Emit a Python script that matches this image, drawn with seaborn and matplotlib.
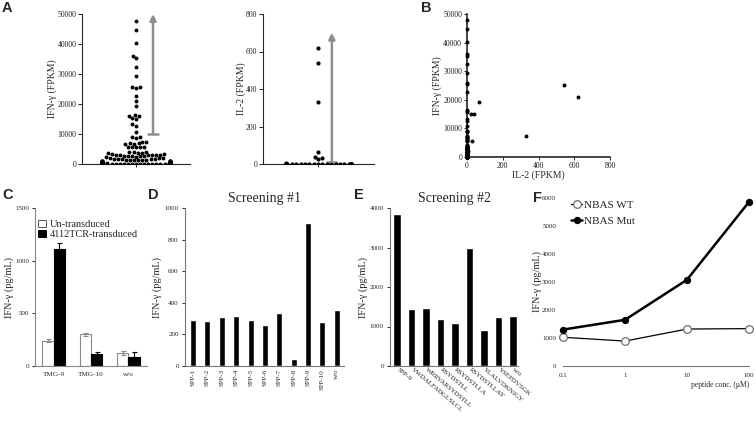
import warnings
warnings.filterwarnings('ignore')
import numpy as np
import pandas as pd
import matplotlib
matplotlib.use('Agg')
import matplotlib.pyplot as plt
from matplotlib.ticker import NullLocator
import seaborn as sns

# ---------------- data ----------------
# Panel A / B: single-cell FPKM values (IFN-gamma and IL-2, paired per cell)
ifng_fpkm = [
    47800, 44700, 40200, 36100, 35200, 32400, 29400, 25800, 25600, 25200, 22700, 21000, 19300,
    16300, 16100, 15900, 15200, 15000, 13200, 12700, 10800, 9100, 9000, 8600, 7500, 7400,
    6900, 6900, 6800, 6800, 5800, 5800, 5700, 5700, 5600,
    4100, 4000, 3900, 3800, 3700, 3600,
    3300, 3200, 3100, 3100, 3000, 3000, 2900, 2900, 2800, 2800, 2700, 2700, 2600, 2500,
    2200, 2000, 1900, 1900, 1800, 1800, 1700, 1700, 1600, 1500, 1500, 1400,
    1300, 1200, 1200, 1100, 1100, 1000, 1000, 950, 900, 900, 850, 800, 800, 750, 700, 700,
    650, 600, 600, 550,
    500, 500, 450, 450, 400, 400, 350, 350, 300, 300, 300, 250, 250, 200, 200, 200, 150,
    150, 150, 100, 100, 100, 80, 60, 50, 40, 30, 20, 10, 5,
]
il2_fpkm = [
    0, 0, 0, 1, 0, 0, 0, 0, 2, 540, 0, 620, 65,
    0, 1, 0, 38, 25, 0, 0, 1, 0, 0, 0, 330, 0,
    0, 1, 0, 0, 0, 0, 30, 0, 0,
    0, 0, 1, 0, 0, 0,
    0, 0, 0, 1, 0, 0, 0, 0, 2, 0, 0, 0, 0, 0,
    8, 0, 0, 0, 0, 1, 0, 0, 0, 0, 0, 0,
    0, 0, 1, 0, 0, 0, 0, 0, 1, 0, 0, 0, 0, 0, 0, 0,
    0, 0, 0, 0,
    0, 0, 0, 0, 0, 0, 0, 0, 0, 0, 0, 0, 0, 0, 0, 0, 0,
    0, 0, 0, 0, 0, 0, 0, 0, 0, 0, 0, 0, 0,
]

# Panel C
c_peptides = ['TMG-9', 'TMG-10', 'w/o']
c_groups = ['Un-transduced', '4112TCR-transduced']
c_untrans = [241, 301, 127]
c_untrans_err = [15, 15, 20]
c_tcr = [1110, 112, 90]
c_tcr_err = [55, 20, 45]

# Panel D
d_peptides = ['SPP-1', 'SPP-2', 'SPP-3', 'SPP-4', 'SPP-5', 'SPP-6', 'SPP-7', 'SPP-8',
              'SPP-9', 'SPP-10', 'w/o']
d_values = [292, 285, 313, 317, 290, 262, 338, 42, 903, 281, 353]

# Panel E
e_peptides = ['SPP-9', 'VWDALFADGLSLCL', 'WRRVARSYDSTLL', 'RSYDSTLL', 'RSYDSTLLA',
              'RSYDSTLLAY', 'YLALVDKNIGY', 'YSEPDVSGK', 'w/o']
e_values = [3860, 1440, 1460, 1180, 1080, 2990, 920, 1230, 1260]

# Panel F
f_conc = [0.1, 1, 10, 100]
f_conc_labels = ['0.1', '1', '10', '100']
f_wt = [1026, 890, 1320, 1335]
f_mut = [1300, 1650, 3080, 5860]

# ---------------- style ----------------
sns.set_theme(style='ticks')
plt.rcParams['font.family'] = ['Liberation Serif', 'DejaVu Serif']
plt.rcParams['axes.linewidth'] = 0.8
plt.rcParams['xtick.major.width'] = 0.7
plt.rcParams['ytick.major.width'] = 0.7

W, H = 756, 422
fig = plt.figure(figsize=(W / 100, H / 100), dpi=100)


def axes_px(x0, y0, x1, y1):
    ax = fig.add_axes([x0 / W, 1 - y1 / H, (x1 - x0) / W, (y1 - y0) / H])
    ax.set_facecolor('none')
    return ax, (x0, y0, x1, y1)


def ylabel_at(ax, box, text, cx, fs):
    x0, y0, x1, y1 = box
    ax.set_ylabel(text, fontsize=fs)
    xr = cx + fs * 1.389 * 0.55
    ax.yaxis.set_label_coords((xr - x0) / (x1 - x0), 0.5)


def letter(x, y, s):
    fig.text(x / W, 1 - y / H, s, fontsize=10.5, fontweight='bold',
             family='Liberation Sans', ha='center', va='center')


ARROW_GRAY = '#8e8e8e'

# ---------------- Panel A (IFN-gamma) ----------------
axA1, boxA1 = axes_px(82, 14, 190, 164)
sns.swarmplot(y=ifng_fpkm, ax=axA1, color='black', size=2.8, linewidth=0)
axA1.set_xlim(-0.635, 0.635)
axA1.set_ylim(0, 50000)
axA1.set_yticks(range(0, 50001, 10000))
axA1.set_xticks([0])
axA1.set_xticklabels([''])
axA1.tick_params(axis='y', labelsize=5.6, length=3, pad=1, colors='#222222')
axA1.tick_params(axis='x', length=2)
sns.despine(ax=axA1)
ylabel_at(axA1, boxA1, 'IFN-γ (FPKM)', 52, 7)
axA1.annotate('', xy=(0.2, 50000), xytext=(0.2, 10000),
              arrowprops=dict(arrowstyle='-|>', color=ARROW_GRAY, lw=1.8,
                              mutation_scale=9, shrinkA=0, shrinkB=0),
              annotation_clip=False)
axA1.plot([0.145, 0.255], [10000, 10000], color=ARROW_GRAY, lw=1.8)

# ---------------- Panel A (IL-2) ----------------
axA2, boxA2 = axes_px(263, 14, 374, 164)
sns.swarmplot(y=il2_fpkm, ax=axA2, color='black', size=3.0, linewidth=0)
axA2.set_xlim(-0.68, 0.69)
axA2.set_ylim(0, 800)
axA2.set_yticks(range(0, 801, 200))
axA2.set_xticks([0])
axA2.set_xticklabels([''])
axA2.tick_params(axis='y', labelsize=5.6, length=3, pad=1, colors='#222222')
axA2.tick_params(axis='x', length=2)
sns.despine(ax=axA2)
ylabel_at(axA2, boxA2, 'IL-2 (FPKM)', 241, 7)
axA2.annotate('', xy=(0.17, 700), xytext=(0.17, 12),
              arrowprops=dict(arrowstyle='-|>', color=ARROW_GRAY, lw=1.8,
                              mutation_scale=9, shrinkA=0, shrinkB=0),
              annotation_clip=False)
axA2.plot([0.115, 0.225], [12, 12], color=ARROW_GRAY, lw=1.8)

# ---------------- Panel B ----------------
axB, boxB = axes_px(467, 14, 610, 157)
sns.scatterplot(x=il2_fpkm, y=ifng_fpkm, ax=axB, color='black', s=8, linewidth=0,
                clip_on=False, zorder=3)
axB.set_xlim(0, 800)
axB.set_ylim(0, 50000)
axB.set_xticks(range(0, 801, 200))
axB.set_yticks(range(0, 50001, 10000))
axB.tick_params(labelsize=5.6, length=2.5, pad=1, colors='#222222')
sns.despine(ax=axB)
axB.spines['left'].set_linewidth(1.2)
axB.spines['bottom'].set_linewidth(1.2)
ylabel_at(axB, boxB, 'IFN-γ (FPKM)', 437, 7)
axB.set_xlabel('IL-2 (FPKM)', fontsize=7, labelpad=0.5)

# ---------------- Panel C ----------------
axC, boxC = axes_px(35, 208, 147, 366)
dfC = pd.DataFrame({
    'peptide': c_peptides * 2,
    'group': [c_groups[0]] * 3 + [c_groups[1]] * 3,
    'ifng': c_untrans + c_tcr,
})
sns.barplot(data=dfC, x='peptide', y='ifng', hue='group', hue_order=c_groups,
            palette={c_groups[0]: 'white', c_groups[1]: 'black'}, saturation=1,
            width=0.6, errorbar=None, ax=axC, linewidth=0.8)
for cont, vals, errs, col in zip(axC.containers, [c_untrans, c_tcr],
                                 [c_untrans_err, c_tcr_err], ['#8a8a8a', 'black']):
    xs = []
    for bar in cont:
        bar.set_edgecolor(col)
        xs.append(bar.get_x() + bar.get_width() / 2)
    axC.errorbar(xs, vals, yerr=errs, fmt='none', ecolor=col, elinewidth=0.8,
                 capsize=1.8, capthick=0.8)
axC.set_xlim(-0.5, 2.5)
axC.set_ylim(0, 1500)
axC.set_yticks(range(0, 1501, 500))
axC.set_xlabel('')
axC.tick_params(axis='y', labelsize=5, length=2, pad=2)
axC.tick_params(axis='x', labelsize=5.2, length=0, pad=4)
sns.despine(ax=axC)
axC.spines['left'].set_color('#888888')
axC.spines['bottom'].set_color('#888888')
ylabel_at(axC, boxC, 'IFN-γ (pg/mL)', 8, 7.4)
legC = axC.legend(loc='upper left', bbox_to_anchor=(0.03, 0.925), frameon=False,
                  fontsize=7.4, handlelength=0.7, handleheight=0.7, handletextpad=0.4,
                  labelspacing=0.12, borderaxespad=0, borderpad=0)
for h, col in zip(legC.legend_handles, ['#555555', 'black']):
    h.set_edgecolor(col)
    h.set_linewidth(0.7)

# ---------------- Panel D ----------------
axD, boxD = axes_px(185, 208, 344, 366)
sns.barplot(x=d_peptides, y=d_values, color='black', saturation=1, width=0.42,
            ax=axD, errorbar=None)
axD.set_xlim(-0.56, 10.5)
axD.set_ylim(0, 1000)
axD.set_yticks(range(0, 1001, 200))
axD.tick_params(axis='y', labelsize=5, length=2.5, pad=2)
axD.tick_params(axis='x', labelsize=5, length=0, pad=2, rotation=90)
sns.despine(ax=axD)
axD.spines['left'].set_color('#777777')
axD.spines['bottom'].set_color('#777777')
ylabel_at(axD, boxD, 'IFN-γ (pg/mL)', 156, 7.4)
axD.set_title('Screening #1', fontsize=10, pad=4)

# ---------------- Panel E ----------------
axE, boxE = axes_px(390, 208, 518, 366)
sns.barplot(x=e_peptides, y=e_values, color='black', saturation=1, width=0.5,
            ax=axE, errorbar=None)
axE.set_xlim(-0.48, 8.34)
axE.set_ylim(0, 4000)
axE.set_yticks(range(0, 4001, 1000))
axE.tick_params(axis='y', labelsize=5, length=2.5, pad=2)
axE.tick_params(axis='x', length=0, pad=2)
for lab in axE.get_xticklabels():
    lab.set_rotation(-40)
    lab.set_rotation_mode('anchor')
    lab.set_ha('left')
    lab.set_va('center')
    lab.set_fontsize(5)
sns.despine(ax=axE)
axE.spines['left'].set_color('#777777')
axE.spines['bottom'].set_color('#777777')
ylabel_at(axE, boxE, 'IFN-γ (pg/mL)', 362, 7.4)
axE.set_title('Screening #2', fontsize=10, pad=4)

# ---------------- Panel F ----------------
axF, boxF = axes_px(563, 198, 749, 366)
sns.lineplot(x=f_conc, y=f_wt, ax=axF, color='black', lw=0.9, marker='o', markersize=5.5,
             markerfacecolor='white', markeredgecolor='#6e6e6e', markeredgewidth=0.9,
             label='NBAS WT', clip_on=False, zorder=3)
sns.lineplot(x=f_conc, y=f_mut, ax=axF, color='black', lw=1.8, marker='o', markersize=4.5,
             markerfacecolor='black', markeredgecolor='black',
             label='NBAS Mut', clip_on=False, zorder=4)
axF.set_xscale('log')
axF.set_xlim(0.1, 100)
axF.set_ylim(0, 6000)
axF.set_xticks(f_conc)
axF.set_xticklabels(f_conc_labels)
axF.xaxis.set_minor_locator(NullLocator())
axF.set_yticks(range(0, 6001, 1000))
axF.tick_params(axis='both', labelsize=5, length=0, pad=5)
sns.despine(ax=axF, left=True)
axF.spines['bottom'].set_color('#777777')
ylabel_at(axF, boxF, 'IFN-γ (pg/mL)', 536, 7.4)
axF.set_xlabel('peptide conc. (μM)', fontsize=5.5, loc='right', labelpad=2)
axF.legend(loc='upper left', bbox_to_anchor=(0.045, 0.985), frameon=False, fontsize=8,
           handlelength=1.0, handletextpad=0.15, labelspacing=0.5, borderaxespad=0,
           borderpad=0)

# ---------------- panel letters ----------------
letter(7, 8, 'A')
letter(426, 8, 'B')
letter(8, 195, 'C')
letter(153, 195, 'D')
letter(359, 195, 'E')
letter(537, 198, 'F')

fig.savefig('out.png', dpi=100)
